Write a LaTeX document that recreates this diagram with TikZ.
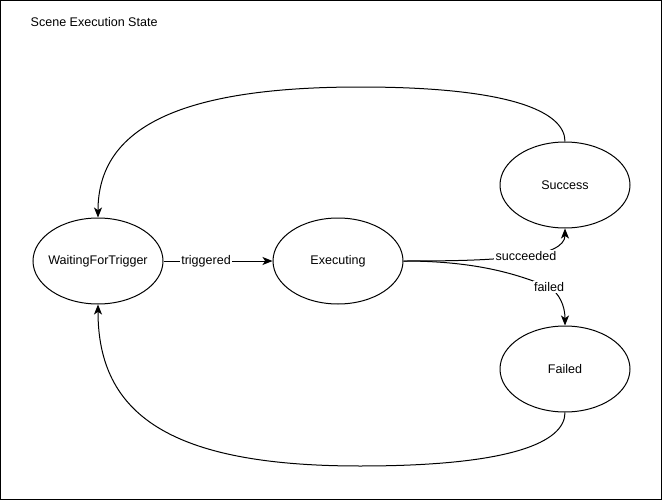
\documentclass[tikz,border=0pt]{standalone}
\usepackage{fontspec}
\setmainfont{Liberation Sans}
\usetikzlibrary{arrows.meta, positioning, shapes.geometric}

\begin{document}
\begin{tikzpicture}[x=0.75pt, y=-0.75pt,
  state/.style={draw, ellipse, line width=0.75pt, minimum width=97.5pt, minimum height=64.5pt, inner xsep=-15pt, inner ysep=0pt, font=\fontsize{9.4}{11}\selectfont},
  arrow/.style={-{Stealth[length=7.5pt, width=6pt, inset=2pt]}, line width=0.75pt},
  lbl/.style={fill=white, inner sep=1pt, font=\fontsize{9.4}{11}\selectfont},
]
  \useasboundingbox (0,0) rectangle (662,500);
  \draw[line width=0.75pt] (0.5,0.5) rectangle (661.5,499.5);
  \node[anchor=west, font=\fontsize{9.4}{11}\selectfont] (title) at (26,22) {Scene Execution State};

  \node[state] (wait) at (98,261) {WaitingForTrigger};
  \node[state, right=81.75pt of wait] (exec) {Executing};
  \node[state] (succ) at (565,185) {Success};
  \node[state, below=72.75pt of succ] (fail) {Failed};

  \coordinate (succpt) at (526,256);
  \coordinate (failpt) at (549,287);
  \coordinate (toppt) at (360,87);
  \coordinate (botpt) at (360,466);

  \draw[arrow] (wait) -- (exec) node[lbl, pos=0.39] {triggered};
  \draw[arrow] (exec.east) .. controls +(60,0) and +(-35,4) .. (succpt)
    .. controls +(22,-3) and +(0,18) .. (succ.south);
  \node[lbl] at (succpt) {succeeded};
  \draw[arrow] (exec.east) .. controls +(75,0) and +(-30,-12) .. (failpt)
    .. controls +(10,6) and +(0,-20) .. (fail.north);
  \node[lbl] at (failpt) {failed};
  \draw[arrow] (succ.north) .. controls +(0,-30) and +(150,0) .. (toppt)
    .. controls +(-180,0) and +(0,-90) .. (wait.north);
  \draw[arrow] (fail.south) .. controls +(0,30) and +(150,0) .. (botpt)
    .. controls +(-190,0) and +(0,110) .. (wait.south);
\end{tikzpicture}
\end{document}
